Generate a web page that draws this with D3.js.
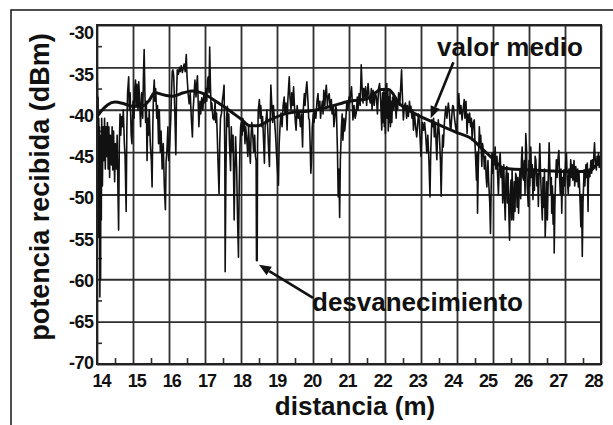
<!DOCTYPE html>
<html>
<head>
<meta charset="utf-8">
<script src="https://cdn.jsdelivr.net/npm/d3@7"></script>
<style>
  html, body { margin: 0; padding: 0; background: #fff; }
  svg { display: block; }
  text { font-family: "Liberation Sans", Arial, Helvetica, sans-serif; font-weight: bold; fill: #111; }
</style>
</head>
<body>
<svg id="grafico" width="613" height="425"></svg>
<script>
// Valores del eje
const ticksDistancia = [14, 15, 16, 17, 18, 19, 20, 21, 22, 23, 24, 25, 26, 27, 28];
const ticksPotencia = [-30, -35, -40, -45, -50, -55, -60, -65, -70];
const ticksMenoresDistancia = [14.5, 15.5, 16.5, 17.5, 18.5, 19.5, 20.5, 21.5, 22.5, 23.5, 24.5, 25.5, 26.5, 27.5];
const ticksMenoresPotencia = [-32.5, -37.5, -42.5, -47.5, -52.5, -57.5, -62.5, -67.5];

// Potencia recibida medida [distancia (m), potencia (dBm)]
const muestras = [
  [14.00,-40.5],[14.01,-36.8],[14.02,-46],[14.03,-38.5],[14.04,-55],[14.05,-41],[14.06,-48],[14.07,-42],
  [14.08,-62.1],[14.09,-45],[14.10,-60],[14.11,-43],[14.12,-53],[14.13,-41],[14.15,-49],[14.17,-42],
  [14.19,-46],[14.21,-41],[14.23,-47],[14.25,-42],[14.27,-45.5],[14.29,-41.5],[14.31,-47],[14.33,-42],
  [14.35,-48],[14.37,-43],[14.40,-46.5],[14.42,-42],[14.44,-47.1],[14.46,-42.5],[14.49,-48.5],[14.51,-44],
  [14.54,-47],[14.56,-43],[14.58,-49],[14.60,-54.2],[14.62,-44],[14.64,-40.5],[14.66,-43],[14.68,-40.8],
  [14.71,-42],[14.73,-40],[14.76,-44],[14.78,-45.5],[14.81,-52],[14.83,-42],[14.85,-38],[14.88,-36.1],
  [14.90,-40],[14.92,-38],[14.95,-43],[14.97,-44],[15.00,-39],[15.03,-41],[15.05,-37.5],[15.07,-36.5],
  [15.09,-39.5],[15.11,-37],[15.14,-40],[15.16,-36.7],[15.18,-38.5],[15.21,-42],[15.24,-38],[15.27,-41],
  [15.29,-36],[15.31,-32.9],[15.33,-38],[15.35,-41.5],[15.37,-39],[15.39,-46],[15.41,-41],[15.43,-43],
  [15.45,-40],[15.48,-44],[15.51,-46],[15.53,-49.1],[15.55,-42],[15.57,-38],[15.59,-36.5],[15.61,-39],
  [15.63,-37.5],[15.66,-41],[15.68,-39.5],[15.71,-44],[15.73,-40],[15.76,-45],[15.78,-42.5],[15.81,-47],
  [15.84,-44],[15.87,-49],[15.90,-51.8],[15.92,-46],[15.94,-45],[15.97,-42],[15.99,-46],
  [16.02,-44],[16.05,-41],[16.07,-38],[16.09,-35.5],[16.11,-35.3],[16.13,-36],[16.16,-40],[16.19,-45.3],
  [16.21,-38],[16.23,-35.3],[16.26,-35.8],[16.29,-35],[16.31,-35.5],[16.34,-34.8],[16.37,-35.6],[16.40,-35],
  [16.42,-34.6],[16.45,-35.5],[16.48,-33.5],[16.50,-36],[16.53,-38],[16.56,-39.3],[16.59,-38],[16.62,-41],
  [16.65,-43.2],[16.67,-40],[16.70,-38],[16.72,-36.5],[16.75,-38.5],[16.77,-37],[16.79,-36],[16.81,-39],
  [16.83,-42],[16.86,-39],[16.88,-40.5],[16.91,-38.6],[16.94,-40],[16.97,-38],[17.00,-39.2],[17.03,-37.5],
  [17.05,-39],[17.07,-36.5],[17.09,-36.1],[17.11,-38],[17.13,-32.6],[17.15,-37],[17.17,-40],[17.19,-39.2],
  [17.22,-41],[17.25,-41.2],[17.28,-39],[17.30,-41.5],[17.32,-40.4],[17.34,-43],[17.36,-46],[17.39,-49.9],
  [17.41,-44],[17.43,-41],[17.46,-40.4],[17.48,-39],[17.51,-38],[17.53,-37.1],[17.55,-45],[17.56,-59.1],
  [17.58,-48],[17.60,-41],[17.62,-39.6],[17.64,-42],[17.66,-40.5],[17.68,-44],[17.71,-47.2],[17.73,-42],
  [17.75,-45],[17.78,-43],[17.81,-53],[17.83,-47],[17.85,-43.2],[17.88,-47],[17.90,-52],[17.93,-57.4],
  [17.95,-49],[17.97,-44.5],[17.99,-42],
  [18.01,-41.5],[18.03,-43],[18.05,-41],[18.07,-42.5],[18.09,-41.4],[18.11,-44],[18.13,-42],[18.16,-43.5],
  [18.19,-45.5],[18.21,-42],[18.23,-44],[18.26,-46.3],[18.28,-43],[18.30,-41.5],[18.32,-42.4],[18.35,-45],
  [18.38,-43],[18.40,-45.5],[18.42,-46],[18.43,-57.8],[18.45,-57.8],[18.46,-44],[18.48,-40],[18.51,-38.8],
  [18.53,-41],[18.55,-39.5],[18.58,-42],[18.60,-40.8],[18.63,-44],[18.65,-46.3],[18.67,-42],[18.70,-41],
  [18.72,-40],[18.75,-43],[18.77,-45],[18.79,-46.7],[18.81,-41],[18.83,-37.1],[18.85,-39],[18.88,-41.5],
  [18.90,-39.5],[18.93,-41.2],[18.96,-43],[18.99,-45.5],[19.01,-47],[19.04,-48.9],[19.06,-44],[19.09,-41.5],
  [19.11,-40.4],[19.14,-42],[19.17,-39.5],[19.20,-38.5],[19.22,-40.5],[19.25,-39.2],[19.28,-42.4],[19.30,-39],
  [19.32,-37.5],[19.34,-36.1],[19.36,-38.5],[19.39,-40],[19.41,-38],[19.44,-39.5],[19.46,-37.3],[19.49,-40],
  [19.51,-41.5],[19.53,-42.4],[19.56,-39.5],[19.59,-41],[19.62,-40.4],[19.65,-42],[19.68,-40.5],[19.71,-44.4],
  [19.73,-40],[19.76,-38.1],[19.78,-39.5],[19.81,-37.5],[19.83,-36.7],[19.86,-39],[19.88,-41],[19.90,-41.2],
  [19.92,-44],[19.94,-47.5],[19.96,-45.9],[19.98,-42],
  [20.01,-40.5],[20.03,-41.5],[20.05,-40],[20.08,-41],[20.11,-39],[20.14,-38.1],[20.16,-40],[20.19,-39],
  [20.21,-41],[20.23,-40],[20.26,-39],[20.28,-40.5],[20.30,-37.7],[20.33,-39.5],[20.35,-38],[20.37,-37.1],
  [20.40,-39.5],[20.42,-38.5],[20.45,-38.1],[20.48,-40],[20.51,-38.8],[20.53,-40.5],[20.56,-39.5],[20.58,-42],
  [20.60,-41.2],[20.63,-39.5],[20.65,-40],[20.68,-45],[20.70,-50.3],[20.72,-47],[20.74,-52.7],[20.76,-46],
  [20.79,-42],[20.81,-40.5],[20.83,-43.6],[20.86,-41],[20.88,-42.5],[20.91,-41.2],[20.94,-39],[20.97,-40],
  [21.00,-38.5],[21.02,-39.2],[21.05,-38],[21.07,-37.3],[21.09,-39],[21.11,-41.2],[21.14,-39.5],[21.17,-41],
  [21.20,-40.4],[21.23,-38.5],[21.25,-40],[21.28,-38.1],[21.31,-39.5],[21.33,-36.5],[21.34,-34.7],[21.36,-37],
  [21.39,-39.2],[21.41,-37.5],[21.44,-38.5],[21.46,-37.3],[21.49,-39.5],[21.51,-38],[21.53,-36.9],[21.56,-38.5],
  [21.59,-39.2],[21.62,-37.5],[21.64,-40],[21.67,-37.7],[21.70,-39.5],[21.73,-38],[21.76,-38.5],[21.79,-40.5],
  [21.82,-37.5],[21.85,-36.9],[21.88,-39],[21.91,-42.4],[21.93,-38],[21.95,-41.5],[21.97,-37.5],[21.98,-42],
  [22.00,-38],[22.01,-42.8],[22.03,-37.5],[22.05,-36.9],[22.06,-41],[22.08,-37.8],[22.09,-42.5],[22.11,-38.5],
  [22.12,-41.5],[22.14,-37.8],[22.15,-42],[22.17,-39],[22.19,-41.5],[22.21,-38.5],[22.24,-40],[22.26,-38.5],
  [22.28,-38.8],[22.31,-41],[22.33,-39],[22.35,-40],[22.38,-38],[22.41,-39.5],[22.44,-37],[22.46,-35.3],
  [22.48,-38],[22.51,-41.2],[22.54,-39.5],[22.57,-39.2],[22.60,-41],[22.62,-39.5],[22.65,-40.8],[22.68,-39],
  [22.70,-40],[22.72,-39.6],[22.75,-41],[22.77,-40],[22.79,-42.4],[22.82,-40.5],[22.85,-42],[22.88,-43.2],
  [22.91,-41.5],[22.93,-40.5],[22.95,-41.2],[22.97,-43],[23.00,-45.5],[23.02,-43],[23.04,-41.5],[23.07,-42.4],
  [23.10,-41.5],[23.13,-43],[23.16,-45.1],[23.19,-43],[23.22,-46],[23.25,-50.3],[23.27,-45],[23.30,-41.2],
  [23.32,-42],[23.35,-41],[23.37,-43.2],[23.40,-41.5],[23.42,-44],[23.44,-45.9],[23.46,-43],[23.48,-41.2],
  [23.51,-43],[23.54,-46],[23.56,-50.2],[23.58,-46],[23.60,-43],[23.62,-44.4],[23.65,-41.5],[23.67,-40.5],
  [23.69,-39.6],[23.72,-41],[23.74,-40],[23.76,-39.2],[23.79,-40.5],[23.81,-42],[23.83,-42.4],[23.86,-40.5],
  [23.88,-39.5],[23.90,-39.6],[23.93,-41],[23.96,-42],[23.99,-42.8],
  [24.02,-40],[24.05,-38.1],[24.08,-40.5],[24.11,-39.5],[24.14,-41.2],[24.17,-40],[24.20,-38.8],[24.22,-41],
  [24.25,-39],[24.28,-42.8],[24.30,-40.5],[24.33,-41.5],[24.35,-40.4],[24.38,-42],[24.40,-41],[24.42,-43.6],
  [24.45,-41.5],[24.48,-41.2],[24.50,-44],[24.52,-46],[24.54,-48.3],[24.56,-45],[24.57,-52.2],[24.59,-47],
  [24.62,-42],[24.64,-44],[24.66,-43],[24.69,-46.7],[24.71,-44],[24.74,-45.1],[24.76,-47],[24.79,-45.5],
  [24.81,-48],[24.83,-49.1],[24.86,-46],[24.88,-48.5],[24.91,-51],[24.93,-54.6],[24.95,-49],[24.97,-45.1],
  [24.99,-47.5],[25.02,-45],[25.04,-46.5],[25.06,-44.4],[25.08,-47],[25.11,-45.5],[25.13,-47.9],[25.15,-50],
  [25.18,-46],[25.20,-45.1],[25.22,-48],[25.25,-47],[25.27,-51],[25.28,-49.9],[25.30,-46.5],[25.32,-50.5],
  [25.34,-53],[25.36,-48],[25.38,-46.7],[25.40,-51],[25.42,-47.5],[25.44,-52],[25.46,-55.4],[25.48,-50],
  [25.50,-48.3],[25.52,-53],[25.53,-47],[25.55,-51],[25.57,-53],[25.59,-48.5],[25.61,-52],[25.63,-47.5],
  [25.65,-47.9],[25.67,-51.5],[25.69,-48],[25.71,-52.2],[25.73,-49],[25.75,-47],[25.77,-50.5],[25.79,-46],
  [25.81,-44.4],[25.83,-48],[25.85,-48.3],[25.87,-46],[25.89,-50],[25.91,-42.8],[25.93,-44.5],[25.95,-49],
  [25.98,-51.4],
  [26.00,-46],[26.02,-49],[26.05,-44.4],[26.07,-48],[26.09,-46.5],[26.11,-50.6],[26.13,-47],[26.15,-49.5],
  [26.17,-45.5],[26.19,-45.9],[26.22,-49],[26.24,-47.5],[26.26,-51.4],[26.28,-47],[26.30,-44],[26.32,-47.5],
  [26.35,-51],[26.37,-53],[26.39,-48],[26.41,-51.5],[26.43,-47],[26.45,-55],[26.47,-52],[26.49,-48.5],
  [26.51,-53],[26.53,-49],[26.56,-43.9],[26.58,-47],[26.60,-50],[26.62,-48],[26.63,-52.2],[26.65,-49],
  [26.67,-53.5],[26.69,-50],[26.70,-56.9],[26.72,-51],[26.74,-48],[26.76,-45.9],[26.78,-48],[26.80,-46],
  [26.83,-44.8],[26.85,-48],[26.87,-50],[26.89,-47],[26.91,-52.2],[26.93,-48],[26.95,-50],[26.97,-47.1],
  [26.99,-49],[27.02,-46],[27.04,-45.1],[27.06,-48],[27.09,-49.9],[27.11,-47],[27.13,-49],[27.16,-45.9],
  [27.18,-48],[27.20,-46.5],[27.22,-48.3],[27.25,-46],[27.27,-49],[27.30,-46.7],[27.32,-48.5],[27.35,-47],
  [27.37,-49.1],[27.39,-47.5],[27.42,-51],[27.44,-53.8],[27.46,-50],[27.48,-57.3],[27.50,-51],[27.53,-47.1],
  [27.55,-49],[27.58,-46.5],[27.60,-48],[27.62,-46.3],[27.64,-52],[27.65,-48.5],[27.67,-47],[27.69,-47.9],
  [27.72,-46],[27.74,-47.5],[27.76,-45.9],[27.78,-47],[27.80,-45.5],[27.82,-43.9],[27.84,-46],[27.87,-47.1],
  [27.89,-45.5],[27.91,-46.5],[27.93,-45.1],[27.95,-46.8],[27.97,-45.5],[28.00,-46.7]
];

// Valor medio de la potencia [distancia (m), potencia (dBm)]
const valorMedio = [
  [14.0,-40.8],[14.15,-40.0],[14.3,-39.4],[14.5,-39.1],[14.75,-39.3],[15.0,-39.6],[15.3,-39.5],[15.45,-38.9],
  [15.6,-38.0],[15.9,-38.3],[16.1,-38.4],[16.4,-38.0],[16.65,-37.8],[17.0,-38.2],[17.3,-39.0],[17.65,-40.0],
  [18.0,-41.1],[18.25,-41.9],[18.45,-41.9],[18.8,-41.2],[19.3,-40.4],[20.0,-40.1],[20.5,-39.6],[21.0,-39.0],
  [21.5,-38.7],[21.9,-37.6],[22.1,-37.6],[22.4,-39.3],[22.8,-40.4],[23.3,-41.4],[24.0,-42.7],[24.4,-43.4],
  [24.65,-44.4],[25.0,-45.8],[25.3,-46.9],[26.0,-47.1],[26.5,-47.2],[27.0,-47.3],[27.65,-47.3],[27.85,-46.6],
  [28.0,-45.9]
];

const svg = d3.select("#grafico");

// Escalas del área de trazado
const x = d3.scaleLinear().domain([14, 28]).range([97, 601]);
const y = d3.scaleLinear().domain([-70, -30]).range([364, 25]);
// Escalas de colocación de las etiquetas numéricas
const xEtiqueta = d3.scaleLinear().domain([14, 28]).range([101, 593]);
const yEtiqueta = d3.scaleLinear().domain([-70, -30]).range([363, 33]);

const tinta = "#111";
const rejilla = "#2e2e2e";

// Marco exterior de la figura
svg.append("rect")
  .attr("x", 11).attr("y", 10).attr("width", 720).attr("height", 520)
  .attr("fill", "none").attr("stroke", "#222").attr("stroke-width", 1.6);

// Rejilla vertical
svg.append("g")
  .attr("transform", `translate(0,${y(-70)})`)
  .call(d3.axisBottom(x).tickValues(ticksDistancia).tickSize(-(y(-70) - y(-30))).tickFormat(""))
  .call(g => g.select(".domain").remove())
  .call(g => g.selectAll("line").attr("stroke", rejilla).attr("stroke-width", 1.8));

// Rejilla horizontal
svg.append("g")
  .attr("transform", `translate(${x(14)},0)`)
  .call(d3.axisLeft(y).tickValues(ticksPotencia).tickSize(-(x(28) - x(14))).tickFormat(""))
  .call(g => g.select(".domain").remove())
  .call(g => g.selectAll("line").attr("stroke", rejilla).attr("stroke-width", 1.8));

// Marcas menores hacia dentro
svg.append("g")
  .attr("transform", `translate(0,${y(-70)})`)
  .call(d3.axisBottom(x).tickValues(ticksMenoresDistancia).tickSize(-6).tickFormat(""))
  .call(g => g.select(".domain").remove())
  .call(g => g.selectAll("line").attr("stroke", rejilla).attr("stroke-width", 1.6));
svg.append("g")
  .attr("transform", `translate(${x(14)},0)`)
  .call(d3.axisLeft(y).tickValues(ticksMenoresPotencia).tickSize(-5).tickFormat(""))
  .call(g => g.select(".domain").remove())
  .call(g => g.selectAll("line").attr("stroke", rejilla).attr("stroke-width", 1.6));

// Señal medida
const linea = d3.line().x(d => x(d[0])).y(d => y(d[1]));
svg.append("path")
  .datum(muestras)
  .attr("d", linea)
  .attr("fill", "none")
  .attr("stroke", tinta)
  .attr("stroke-width", 1.6)
  .attr("stroke-linejoin", "round");

// Valor medio
svg.append("path")
  .datum(valorMedio)
  .attr("d", d3.line().curve(d3.curveMonotoneX).x(d => x(d[0])).y(d => y(d[1])))
  .attr("fill", "none")
  .attr("stroke", tinta)
  .attr("stroke-width", 3)
  .attr("stroke-linejoin", "round");

// Borde del área de trazado
svg.append("rect")
  .attr("x", x(14)).attr("y", y(-30))
  .attr("width", x(28) - x(14)).attr("height", y(-70) - y(-30))
  .attr("fill", "none").attr("stroke", "#222").attr("stroke-width", 2);

// Etiquetas de los ejes
svg.append("g")
  .attr("transform", "translate(0,374.5)")
  .call(d3.axisBottom(xEtiqueta).tickValues(ticksDistancia).tickSize(0).tickPadding(0).tickFormat(d => String(d)))
  .call(g => g.select(".domain").remove())
  .call(g => g.selectAll("text").attr("font-size", 18).attr("letter-spacing", -1).attr("fill", tinta)
    .attr("font-family", "'Liberation Sans', Arial, sans-serif").attr("font-weight", "bold"));

svg.append("g")
  .attr("transform", "translate(93.5,0)")
  .call(d3.axisLeft(yEtiqueta).tickValues(ticksPotencia).tickSize(0).tickPadding(0).tickFormat(d => String(d)))
  .call(g => g.select(".domain").remove())
  .call(g => g.selectAll("text").attr("font-size", 18).attr("letter-spacing", -0.5).attr("fill", tinta)
    .attr("font-family", "'Liberation Sans', Arial, sans-serif").attr("font-weight", "bold"));

// Títulos de los ejes
svg.append("text")
  .attr("x", 355).attr("y", 415)
  .attr("text-anchor", "middle")
  .attr("font-size", 26)
  .text("distancia (m)");

svg.append("text")
  .attr("transform", "translate(49,187) rotate(-90)")
  .attr("text-anchor", "middle")
  .attr("font-size", 27)
  .text("potencia recibida (dBm)");

// Flechas de anotación
function flecha(desde, hasta) {
  const [x0, y0] = [x(desde[0]), y(desde[1])];
  const [x1, y1] = [x(hasta[0]), y(hasta[1])];
  const ang = Math.atan2(y1 - y0, x1 - x0);
  const largo = 12, ancho = 5;
  const bx = x1 - largo * Math.cos(ang), by = y1 - largo * Math.sin(ang);
  svg.append("line")
    .attr("x1", x0).attr("y1", y0).attr("x2", bx).attr("y2", by)
    .attr("stroke", tinta).attr("stroke-width", 2.6);
  svg.append("path")
    .attr("d", `M${x1},${y1}L${bx + ancho * Math.sin(ang)},${by - ancho * Math.cos(ang)}L${bx - ancho * Math.sin(ang)},${by + ancho * Math.cos(ang)}Z`)
    .attr("fill", tinta);
}

flecha([23.9, -34.4], [23.27, -41.0]);
svg.append("text")
  .attr("x", 437).attr("y", 56)
  .attr("font-size", 26)
  .text("valor medio");

flecha([20.0, -62.2], [18.5, -58.3]);
svg.append("text")
  .attr("x", 312).attr("y", 311)
  .attr("font-size", 26)
  .text("desvanecimiento");
</script>
</body>
</html>
